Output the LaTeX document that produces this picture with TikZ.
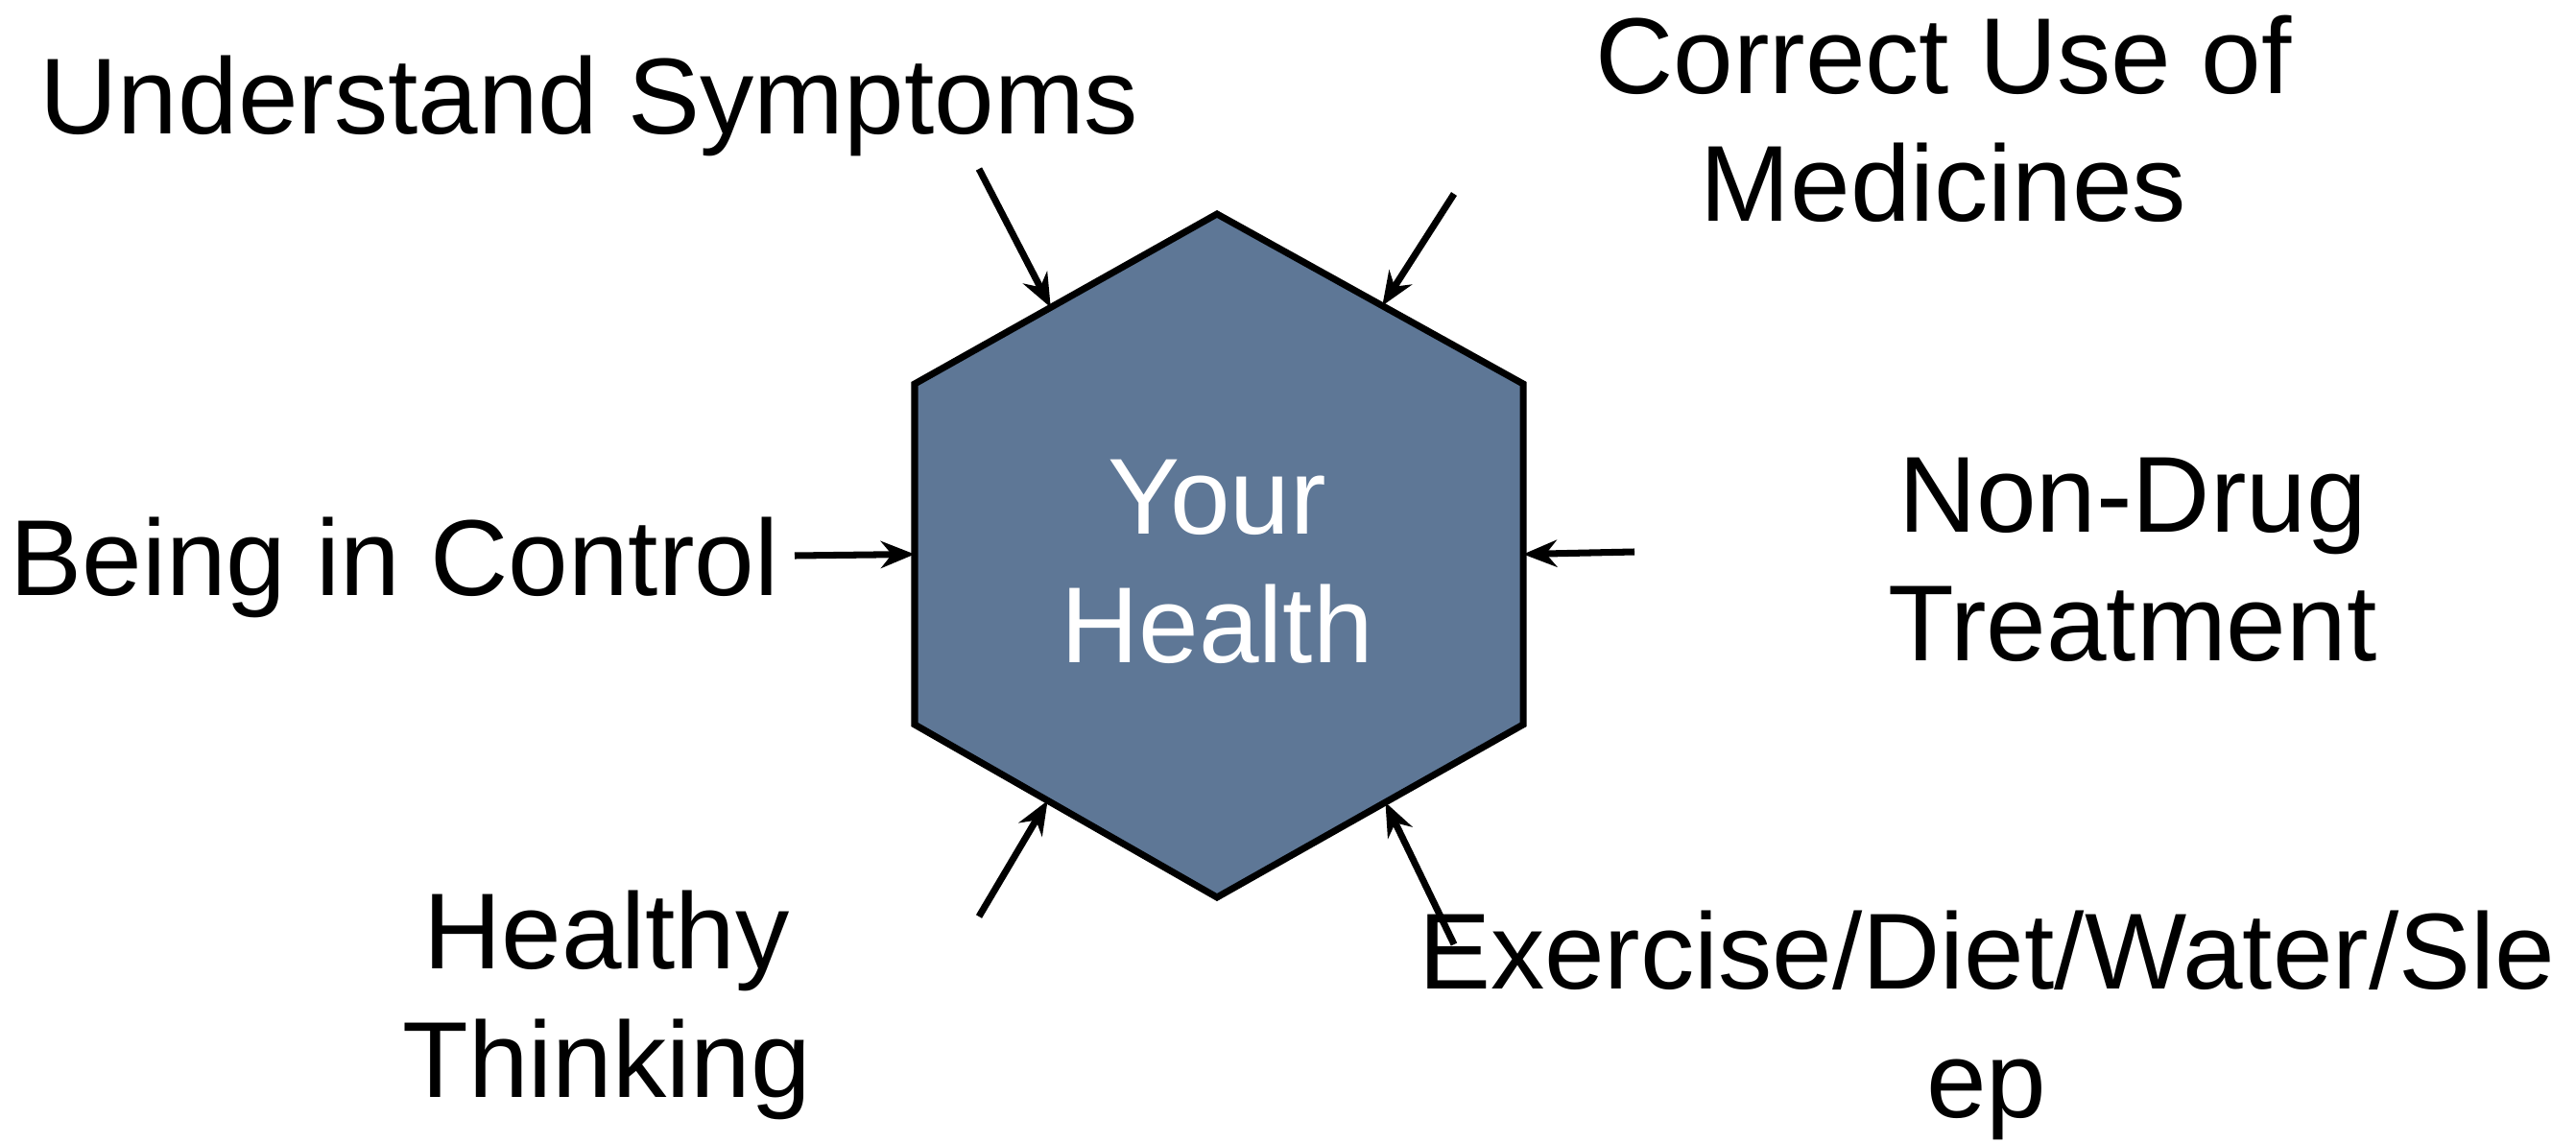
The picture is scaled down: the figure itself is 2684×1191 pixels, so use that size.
\documentclass[tikz,border=0pt]{standalone}
\usepackage{fontspec}
\setmainfont{Liberation Sans}
\usetikzlibrary{arrows.meta,calc}
\definecolor{hexblue}{RGB}{94,119,150}

\begin{document}
\begin{tikzpicture}[x=0.01cm, y=-0.01cm,
    lbl/.style={font=\fontsize{32}{38}\selectfont, align=center, inner sep=0pt, anchor=base},
    arr/.style={-{Stealth[length=10pt, width=8pt]}, line width=2pt},
    hex/.style={draw=black, line width=2pt, fill=hexblue}
]
\useasboundingbox (0,0) rectangle (2684,1191);

% hexagon
\coordinate (top) at (1268,223);
\coordinate (ur) at (1587,400);
\coordinate (lr) at (1587,755);
\coordinate (bot) at (1268,935);
\coordinate (ll) at (953,755);
\coordinate (ul) at (953,400);
\draw[hex] (top) -- (ur) -- (lr) -- (bot) -- (ll) -- (ul) -- cycle;
\node[lbl, text=white] (health) at (1268,690) {Your\\Health};

% labels (base = last line)
\node[lbl] (symp) at (614,140) {Understand Symptoms};
\node[lbl] (med) at (2025,231) {Correct Use of\\Medicines};
\node[lbl] (ctrl) at (411,620) {Being in Control};
\node[lbl] (nondrug) at (2222,688) {Non-Drug\\Treatment};
\node[lbl] (think) at (632,1143) {Healthy\\Thinking};
\node[lbl] (exer) at (2070,1164) {Exercise/Diet/Water/Sle\\ep};

% arrow ends
\coordinate (symp-t) at (1020,176);
\coordinate (med-t) at (1515,202);
\coordinate (ctrl-t) at (828,579);
\coordinate (nondrug-t) at (1703,575);
\coordinate (think-t) at (1020,955);
\coordinate (exer-t) at (1515,984);
\coordinate (symp-h) at ($(ul)!0.45!(top)$);
\coordinate (med-h) at ($(top)!0.54!(ur)$);
\coordinate (ctrl-h) at ($(ul)!0.5!(ll)$);
\coordinate (nondrug-h) at ($(ur)!0.5!(lr)$);
\coordinate (think-h) at ($(ll)!0.44!(bot)$);
\coordinate (exer-h) at ($(bot)!0.55!(lr)$);

\draw[arr] (symp-t) -- (symp-h);
\draw[arr] (med-t) -- (med-h);
\draw[arr] (ctrl-t) -- (ctrl-h);
\draw[arr] (nondrug-t) -- (nondrug-h);
\draw[arr] (think-t) -- (think-h);
\draw[arr] (exer-t) -- (exer-h);
\end{tikzpicture}
\end{document}
